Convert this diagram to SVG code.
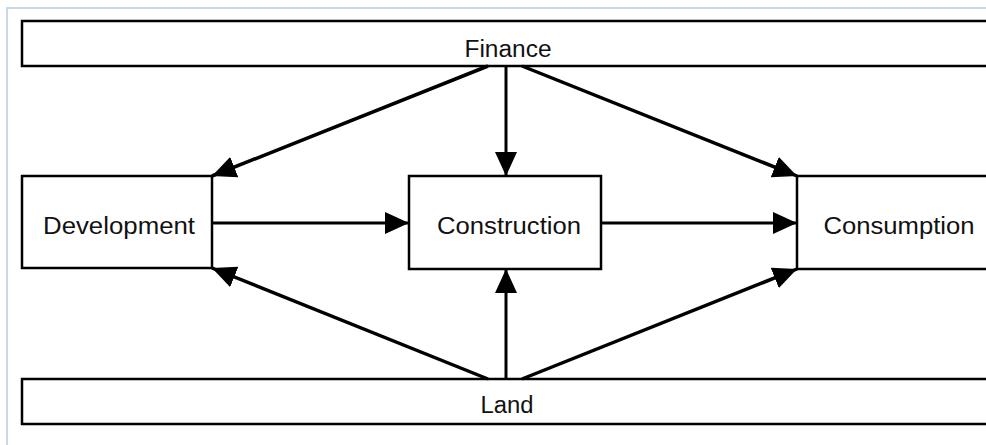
<svg xmlns="http://www.w3.org/2000/svg" width="986" height="445" viewBox="0 0 986 445">
<style>
.frame{fill:none;stroke:#b7cde3;stroke-width:1.5}
.box{fill:#fff;stroke:#000;stroke-width:2.5}
.lbl{font-family:"Liberation Sans",Arial,sans-serif;font-size:23px;fill:#111;text-anchor:middle}
.c{fill:none;stroke:#000;stroke-width:3.5}
.v{fill:none;stroke:#000;stroke-width:3}
</style>
<defs>
<marker id="ah" viewBox="0 0 24 22" refX="24" refY="11" markerWidth="24" markerHeight="22" markerUnits="userSpaceOnUse" orient="auto">
<path d="M0,0 L24,11 L0,22 Z" fill="#000"/>
</marker>
</defs>
<rect class="frame" x="7" y="8" width="1000" height="460"/>
<g id="finance">
<rect class="box" x="22" y="21" width="990" height="45"/>
<text class="lbl" x="508" y="57" textLength="87" lengthAdjust="spacingAndGlyphs">Finance</text>
</g>
<g id="land">
<rect class="box" x="22" y="379" width="990" height="45"/>
<text class="lbl" x="507" y="413" textLength="53" lengthAdjust="spacingAndGlyphs">Land</text>
</g>
<g id="development">
<rect class="box" x="22" y="176" width="190" height="92"/>
<text class="lbl" x="119" y="234" textLength="152" lengthAdjust="spacingAndGlyphs">Development</text>
</g>
<g id="construction">
<rect class="box" x="409" y="176" width="192" height="93"/>
<text class="lbl" x="509" y="234" textLength="144" lengthAdjust="spacingAndGlyphs">Construction</text>
</g>
<g id="consumption">
<rect class="box" x="797" y="176" width="215" height="93"/>
<text class="lbl" x="899" y="234" textLength="151" lengthAdjust="spacingAndGlyphs">Consumption</text>
</g>
<g id="connectors">
<line class="v" x1="506" y1="66" x2="506" y2="176" marker-end="url(#ah)"/>
<line class="c" x1="488" y1="66" x2="212" y2="176" marker-end="url(#ah)"/>
<line class="c" x1="522" y1="66" x2="797" y2="176" marker-end="url(#ah)"/>
<line class="v" x1="506" y1="379" x2="506" y2="269" marker-end="url(#ah)"/>
<line class="c" x1="488" y1="379" x2="212" y2="268" marker-end="url(#ah)"/>
<line class="c" x1="522" y1="379" x2="797" y2="269" marker-end="url(#ah)"/>
<line class="v" x1="212" y1="223" x2="409" y2="223" marker-end="url(#ah)"/>
<line class="v" x1="601" y1="223" x2="797" y2="223" marker-end="url(#ah)"/>
</g>
</svg>
